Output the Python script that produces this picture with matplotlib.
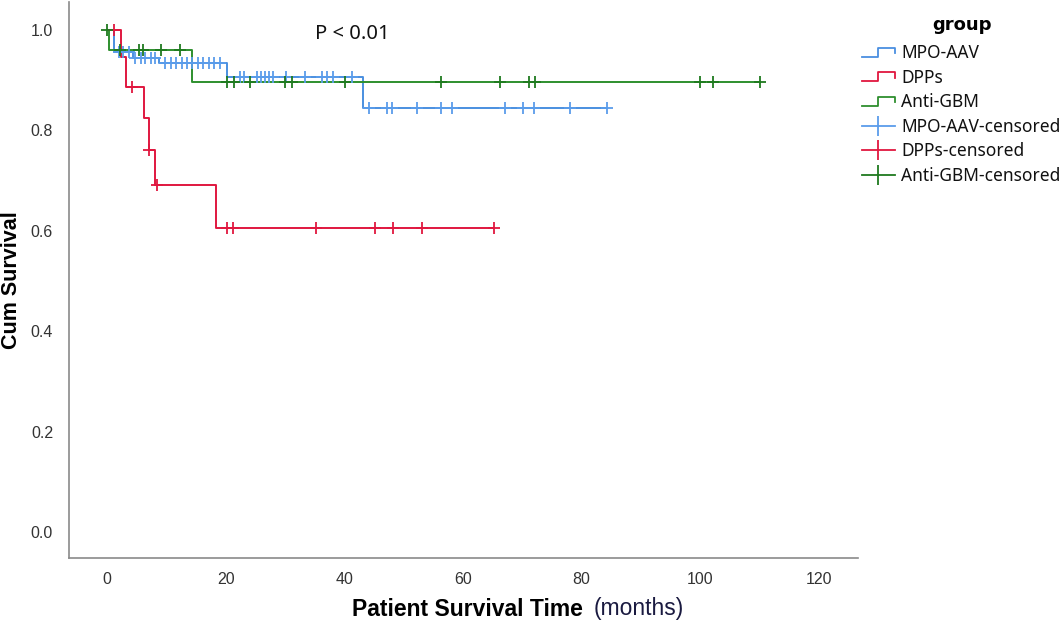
import matplotlib
matplotlib.use("Agg")
import matplotlib.pyplot as plt
import numpy as np
from matplotlib.lines import Line2D
from matplotlib.legend_handler import HandlerBase

# ---------------- data ----------------
groups = ["MPO-AAV", "DPPs", "Anti-GBM"]

mpo_step_times = [0, 1.2, 4.4, 8.8, 20.2, 43.2]
mpo_levels = [1.0, 0.957, 0.945, 0.934, 0.907, 0.844]
mpo_end = 84.2
mpo_censor = [1.9, 2.7, 3.6,
              4.7, 5.6, 6.4, 7.3, 8.1,
              9.8, 10.7, 11.6, 12.6, 13.4, 14.3, 15.3, 16.2, 17.1, 18.0, 19.0,
              22.3, 23.0, 25.2, 26.0, 26.6, 27.3, 28.0, 30.2, 33.4, 36.2, 37.0, 38.1, 41.2,
              44.2, 47.2, 48.0, 52.2, 56.2, 58.1, 67.1, 70.1, 72.0, 78.1, 84.2]

dpp_step_times = [0, 2.3, 3.2, 6.2, 7.0, 8.1, 18.3]
dpp_levels = [1.0, 0.946, 0.887, 0.824, 0.761, 0.691, 0.605]
dpp_end = 65.2
dpp_censor = [1.2, 4.2, 7.1, 8.3, 20.2, 21.2, 35.2, 45.2, 48.2, 53.1, 65.2]

gbm_step_times = [0, 0.3, 14.3]
gbm_levels = [1.0, 0.961, 0.897]
gbm_end = 110.1
gbm_censor = [0.0, 2.2, 5.3, 6.1, 9.1, 12.2,
              20.2, 21.3, 24.1, 30.0, 31.1, 40.1, 56.2, 66.2, 71.2, 72.2, 100.0, 102.1, 110.1]

x_ticks = [0, 20, 40, 60, 80, 100, 120]
y_ticks = [0.0, 0.2, 0.4, 0.6, 0.8, 1.0]

line_colors = ["#4a8fe0", "#e0173f", "#2e8f2e"]
censor_colors = ["#5a9cea", "#e0173f", "#1f7a1f"]

# ---------------- figure ----------------
W, H = 1063, 628
fig = plt.figure(figsize=(W / 100, H / 100), dpi=100)
ax = fig.add_axes([69 / W, 1 - 558 / H, (858 - 69) / W, (558 - 2) / H])

series = [
    (mpo_step_times, mpo_levels, mpo_end, mpo_censor),
    (dpp_step_times, dpp_levels, dpp_end, dpp_censor),
    (gbm_step_times, gbm_levels, gbm_end, gbm_censor),
]

for i, (t, s, end, cens) in enumerate(series):
    xs = list(t) + [end]
    ys = list(s) + [s[-1]]
    ax.step(xs, ys, where="post", color=line_colors[i], lw=1.4, zorder=2 + i)

for i, (t, s, end, cens) in enumerate(series):
    t_arr = np.array(t)
    s_arr = np.array(s)
    cy = [s_arr[np.searchsorted(t_arr, c, side="right") - 1] for c in cens]
    ax.plot(cens, cy, linestyle="none", marker="+", markersize=9, mew=1.3,
            color=censor_colors[i], zorder=6)

ax.set_xlim(-6.46, 126.6)
ax.set_ylim(-0.052, 1.056)
ax.set_xticks(x_ticks)
ax.set_xticklabels([str(v) for v in x_ticks])
ax.set_yticks(y_ticks)
ax.set_yticklabels([f"{v:.1f}" for v in y_ticks])
ax.tick_params(length=0, labelsize=11.5, colors="#333333")
ax.tick_params(axis="x", pad=10)
ax.tick_params(axis="y", pad=11.5)
for lab in ax.get_xticklabels() + ax.get_yticklabels():
    lab.set_family("Liberation Sans")
for side in ["top", "right"]:
    ax.spines[side].set_visible(False)
for side in ["left", "bottom"]:
    ax.spines[side].set_color("#8a8a8a")
    ax.spines[side].set_linewidth(1.2)

ax.text(41.4, 0.992, "P < 0.01", fontsize=14.5, ha="center", va="center",
        family="Noto Sans", color="#111111")

fig.text(12 / W, 1 - 280 / H, "Cum Survival", rotation=90, ha="center", va="center",
         fontsize=15.5, fontweight="bold", family="Liberation Sans")
fig.text(583 / W, 1 - 609 / H, "Patient Survival Time", ha="right", va="center",
         fontsize=16.5, fontweight="bold", family="Liberation Sans")
fig.text(594 / W, 1 - 609 / H, "(months)", ha="left", va="center",
         fontsize=16.5, family="Liberation Sans", color="#1a1a40")


# ---------------- legend ----------------
class StepHandler(HandlerBase):
    def create_artists(self, legend, orig_handle, xdescent, ydescent, width, height,
                       fontsize, trans):
        x0 = -xdescent
        y0 = -ydescent
        xs = [x0, x0 + 0.5 * width, x0 + 0.5 * width, x0 + width, x0 + width]
        ys = [y0 + 0.1 * height, y0 + 0.1 * height, y0 + 0.85 * height,
              y0 + 0.85 * height, y0 + 0.4 * height]
        ln = Line2D(xs, ys, color=orig_handle.get_color(), lw=1.3)
        ln.set_transform(trans)
        return [ln]


step_handles = [Line2D([], [], color=c) for c in line_colors]
cens_handles = [Line2D([0], [0], color=c, lw=1.3, marker="|", markersize=14, mew=1.3)
                for c in censor_colors]
handles = step_handles + cens_handles
labels = groups + [g + "-censored" for g in groups]
handler_map = {h: StepHandler() for h in step_handles}

leg = fig.legend(handles, labels, handler_map=handler_map, loc="upper left",
                 bbox_to_anchor=(862 / W, 1 - 44 / H), frameon=False,
                 handlelength=1.9, handletextpad=0.35,
                 labelspacing=0.38, numpoints=1, borderpad=0, borderaxespad=0,
                 prop={"family": "Noto Sans", "size": 12.5})
for t in leg.get_texts():
    t.set_color("#111111")

fig.text(962 / W, 1 - 25 / H, "group", ha="center", va="center", fontsize=13,
         fontweight="bold", family="DejaVu Sans")

fig.savefig("out.png", dpi=100)
